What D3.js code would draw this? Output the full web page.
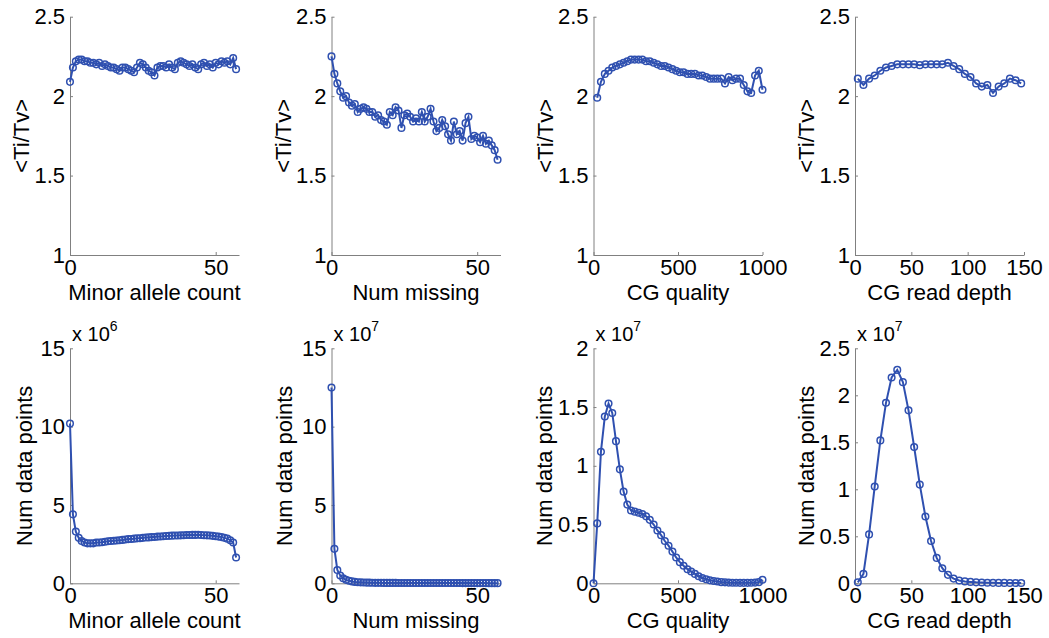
<!DOCTYPE html>
<html>
<head>
<meta charset="utf-8">
<script src="https://cdn.jsdelivr.net/npm/d3@7"></script>
<style>
  html, body { margin: 0; padding: 0; background: #fff; }
  svg { display: block; font-family: "Liberation Sans", Arial, sans-serif; }
</style>
</head>
<body>
<div id="chart"></div>
<script>
// x positions (categories)
const countX = [0, 1, 2, 3, 4, 5, 6, 7, 8, 9, 10, 11, 12, 13, 14, 15, 16, 17, 18, 19,
    20, 21, 22, 23, 24, 25, 26, 27, 28, 29, 30, 31, 32, 33, 34, 35, 36, 37, 38, 39,
    40, 41, 42, 43, 44, 45, 46, 47, 48, 49, 50, 51, 52, 53, 54, 55, 56, 57];
const qualX = [0, 22, 44, 67, 89, 111, 133, 156, 178, 200, 222, 244, 267, 289, 311, 333,
    356, 378, 400, 422, 444, 467, 489, 511, 533, 556, 578, 600, 622, 644, 667, 689, 711,
    733, 756, 778, 800, 822, 844, 867, 889, 911, 933, 956, 978, 1000];
const depthX = [2.5, 7.5, 12.5, 17.5, 22.5, 27.5, 32.5, 37.5, 42.5, 47.5, 52.5, 57.5,
    62.5, 67.5, 72.5, 77.5, 82.5, 87.5, 92.5, 97.5, 102.5, 107.5, 112.5, 117.5, 122.5,
    127.5, 132.5, 137.5, 142.5, 147.5];

// <Ti/Tv> series
const minorTiTv = [2.09, 2.18, 2.22, 2.23, 2.23, 2.22, 2.22, 2.21, 2.21, 2.20,
    2.21, 2.19, 2.20, 2.19, 2.18, 2.18, 2.17, 2.16, 2.18, 2.18,
    2.17, 2.16, 2.15, 2.18, 2.21, 2.20, 2.18, 2.16, 2.15, 2.13,
    2.18, 2.19, 2.19, 2.18, 2.20, 2.18, 2.17, 2.21, 2.22, 2.21,
    2.20, 2.19, 2.20, 2.18, 2.17, 2.20, 2.21, 2.19, 2.20, 2.18,
    2.21, 2.20, 2.22, 2.21, 2.22, 2.20, 2.24, 2.17];
const missTiTv = [2.25, 2.14, 2.08, 2.03, 1.99, 2.00, 1.96, 1.94, 1.95, 1.90,
    1.92, 1.93, 1.92, 1.90, 1.90, 1.87, 1.88, 1.85, 1.84, 1.82,
    1.90, 1.88, 1.93, 1.91, 1.80, 1.88, 1.89, 1.87, 1.84, 1.86,
    1.84, 1.90, 1.84, 1.87, 1.92, 1.84, 1.78, 1.80, 1.85, 1.81,
    1.76, 1.72, 1.84, 1.76, 1.78, 1.72, 1.83, 1.87, 1.73, 1.75,
    1.74, 1.71, 1.75, 1.70, 1.72, 1.69, 1.66, 1.60];
const qualTiTv = [null, 1.99, 2.09, 2.14, 2.16, 2.18, 2.19, 2.20, 2.21, 2.22,
    2.23, 2.23, 2.23, 2.23, 2.22, 2.22, 2.21, 2.20, 2.19, 2.19,
    2.18, 2.17, 2.16, 2.15, 2.15, 2.14, 2.14, 2.14, 2.13, 2.13,
    2.12, 2.11, 2.11, 2.11, 2.11, 2.08, 2.12, 2.10, 2.11, 2.11,
    2.07, 2.03, 2.02, 2.13, 2.16, 2.04];
const depthTiTv = [2.11, 2.07, 2.11, 2.13, 2.16, 2.18, 2.19, 2.20, 2.20, 2.20,
    2.20, 2.195, 2.20, 2.20, 2.20, 2.20, 2.21, 2.19, 2.17, 2.14,
    2.12, 2.08, 2.06, 2.07, 2.02, 2.06, 2.08, 2.11, 2.10, 2.08];

// Num data points series (in units of the axis exponent)
const minorCount = [10.2, 4.4, 3.3, 2.9, 2.7, 2.6, 2.55, 2.55, 2.55, 2.6,
    2.6, 2.62, 2.65, 2.68, 2.7, 2.72, 2.73, 2.75, 2.77, 2.8,
    2.82, 2.83, 2.85, 2.87, 2.88, 2.9, 2.92, 2.93, 2.95, 2.96,
    2.98, 2.99, 3.0, 3.02, 3.03, 3.04, 3.05, 3.05, 3.06, 3.07,
    3.08, 3.08, 3.09, 3.09, 3.1, 3.08, 3.07, 3.06, 3.05, 3.03,
    3.0, 2.98, 2.95, 2.9, 2.85, 2.75, 2.6, 1.65];   // x 10^6
const missCount = [12.5, 2.2, 0.85, 0.5, 0.32, 0.22, 0.16, 0.12, 0.09, 0.07,
    0.06, 0.05, 0.045, 0.04, 0.035, 0.03, 0.03, 0.028, 0.027, 0.026,
    0.025, 0.025, 0.024, 0.023, 0.023, 0.022, 0.022, 0.021, 0.021, 0.02,
    0.02, 0.02, 0.019, 0.019, 0.018, 0.018, 0.018, 0.017, 0.017, 0.016,
    0.016, 0.016, 0.015, 0.015, 0.015, 0.014, 0.014, 0.014, 0.013, 0.013,
    0.013, 0.012, 0.012, 0.012, 0.011, 0.011, 0.011, 0.01];   // x 10^7
const qualCount = [0, 0.51, 1.12, 1.42, 1.53, 1.45, 1.21, 0.97, 0.78, 0.67,
    0.62, 0.61, 0.60, 0.59, 0.57, 0.54, 0.50, 0.45, 0.41, 0.36,
    0.32, 0.27, 0.22, 0.18, 0.15, 0.12, 0.10, 0.08, 0.06, 0.045,
    0.035, 0.025, 0.02, 0.015, 0.01, 0.008, 0.006, 0.005, 0.005, 0.004,
    0.004, 0.004, 0.005, 0.006, 0.01, 0.03];   // x 10^7
const depthCount = [0.01, 0.10, 0.52, 1.03, 1.52, 1.92, 2.19, 2.27, 2.14, 1.84,
    1.45, 1.05, 0.71, 0.45, 0.27, 0.16, 0.09, 0.05, 0.03, 0.02,
    0.015, 0.01, 0.008, 0.006, 0.005, 0.004, 0.004, 0.003, 0.003, 0.003];   // x 10^7

const xLabels = ["Minor allele count", "Num missing", "CG quality", "CG read depth"];
const xDomains = [[0, 58], [0, 58], [0, 1000], [0, 150]];
const xTicks = [[0, 50], [0, 50], [0, 500, 1000], [0, 50, 100, 150]];
const tiTvTicks = [1, 1.5, 2, 2.5];
const countTicks = [[0, 5, 10, 15], [0, 5, 10, 15], [0, 0.5, 1, 1.5, 2], [0, 0.5, 1, 1.5, 2, 2.5]];
const countExp = ["6", "7", "7", "7"];

const width = 1049, height = 638;
const lefts = [70, 331.5, 593.5, 855], plotW = 169;
const rows = [{top: 16.7, bottom: 255}, {top: 348.3, bottom: 583.3}];
const yLabelGap = [[41, 41, 41, 41], [38, 40, 41.5, 41.5]];
const blue = "#2f50b0", axisGray = "#808080";

const svg = d3.select("#chart").append("svg")
    .attr("width", width)
    .attr("height", height);

const panels = [];
const xs = [countX, countX, qualX, depthX];
const tops = [minorTiTv, missTiTv, qualTiTv, depthTiTv];
const bottoms = [minorCount, missCount, qualCount, depthCount];
for (let c = 0; c < 4; c++) {
    panels.push({row: 0, col: c, x: xs[c], y: tops[c], yDomain: [1, 2.5], yTicks: tiTvTicks, yLabel: "<Ti/Tv>"});
    panels.push({row: 1, col: c, x: xs[c], y: bottoms[c], yDomain: d3.extent(countTicks[c]), yTicks: countTicks[c], yLabel: "Num data points", exp: countExp[c]});
}

panels.forEach(p => {
    const r = rows[p.row];
    const left = lefts[p.col];
    const x = d3.scaleLinear().domain(xDomains[p.col]).range([left, left + plotW]);
    const y = d3.scaleLinear().domain(p.yDomain).range([r.bottom, r.top]);
    const g = svg.append("g");

    // axes (MATLAB style: ticks inside, box off)
    const ax = g.append("g")
        .attr("transform", `translate(0,${r.bottom})`)
        .call(d3.axisBottom(x).tickValues(xTicks[p.col]).tickSizeInner(-3).tickSizeOuter(0).tickPadding(4).tickFormat(d => String(d)));
    const ay = g.append("g")
        .attr("transform", `translate(${left},0)`)
        .call(d3.axisLeft(y).tickValues(p.yTicks).tickSizeInner(-3).tickSizeOuter(0).tickPadding(5).tickFormat(d => String(d)));
    [ax, ay].forEach(a => {
        a.attr("font-family", null).attr("font-size", null);
        a.select(".domain").attr("stroke", axisGray);
        a.selectAll(".tick line").attr("stroke", axisGray);
        a.selectAll(".tick text").attr("fill", "#000").style("font-size", "22px");
    });

    // axis titles
    g.append("text")
        .attr("x", left + plotW / 2)
        .attr("y", r.bottom + 45)
        .attr("text-anchor", "middle")
        .style("font-size", "22px")
        .text(xLabels[p.col]);
    g.append("text")
        .attr("transform", `translate(${left - yLabelGap[p.row][p.col]},${(r.top + r.bottom) / 2}) rotate(-90)`)
        .attr("text-anchor", "middle")
        .style("font-size", "22px")
        .text(p.yLabel);

    if (p.exp) {
        const t = g.append("text")
            .attr("x", left + 2)
            .attr("y", r.top - 7)
            .style("font-size", "20px")
            .text("x 10");
        t.append("tspan")
            .attr("dy", -10)
            .style("font-size", "14px")
            .text(p.exp);
    }

    // data
    const pts = p.x.map((xv, i) => ({x: xv, y: p.y[i]})).filter(d => d.y !== null && d.y !== undefined);
    const line = d3.line().x(d => x(d.x)).y(d => y(d.y));
    g.append("path")
        .datum(pts)
        .attr("d", line)
        .attr("fill", "none")
        .attr("stroke", blue)
        .attr("stroke-width", 2);
    g.selectAll("circle")
        .data(pts)
        .enter()
        .append("circle")
        .attr("cx", d => x(d.x))
        .attr("cy", d => y(d.y))
        .attr("r", 3.3)
        .attr("fill", "none")
        .attr("stroke", blue)
        .attr("stroke-width", 1.5);
});
</script>
</body>
</html>
